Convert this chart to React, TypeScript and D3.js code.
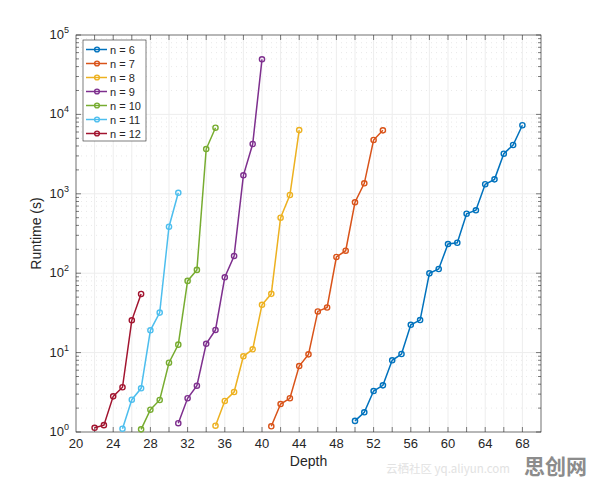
import React, { useEffect, useRef } from 'react';
import * as d3 from 'd3';

// runtime measurements, one array per problem size n
const depth6 = [50, 51, 52, 53, 54, 55, 56, 57, 58, 59, 60, 61, 62, 63, 64, 65, 66, 67, 68];
const runtime6 = [1.38, 1.77, 3.28, 3.87, 8.0, 9.6, 22.4, 25.7, 99.6, 113, 233, 242, 561, 620, 1320, 1520, 3200, 4120, 7300];

const depth7 = [41, 42, 43, 44, 45, 46, 47, 48, 49, 50, 51, 52, 53];
const runtime7 = [1.18, 2.25, 2.66, 6.77, 9.5, 33, 37, 160, 192, 782, 1356, 4760, 6300];

const depth8 = [35, 36, 37, 38, 39, 40, 41, 42, 43, 44];
const runtime8 = [1.2, 2.46, 3.19, 8.98, 11, 40, 55, 500, 966, 6340];

const depth9 = [31, 32, 33, 34, 35, 36, 37, 38, 39, 40];
const runtime9 = [1.29, 2.66, 3.83, 12.9, 19.3, 88.8, 165, 1710, 4240, 49400];

const depth10 = [27, 28, 29, 30, 31, 32, 33, 34, 35];
const runtime10 = [1.08, 1.91, 2.53, 7.46, 12.6, 80, 110, 3660, 6800];

const depth11 = [25, 26, 27, 28, 29, 30, 31];
const runtime11 = [1.1, 2.55, 3.55, 19.1, 31.9, 385, 1030];

const depth12 = [22, 23, 24, 25, 26, 27];
const runtime12 = [1.13, 1.22, 2.81, 3.66, 25.5, 54.7];

const seriesNames = ['n = 6', 'n = 7', 'n = 8', 'n = 9', 'n = 10', 'n = 11', 'n = 12'];
const colors = ['#0072BD', '#D95319', '#EDB120', '#7E2F8E', '#77AC30', '#4DBEEE', '#A2142F'];

const xTicks = [20, 24, 28, 32, 36, 40, 44, 48, 52, 56, 60, 64, 68];
const yDecades = [0, 1, 2, 3, 4, 5];

const App = () => {
  const ref = useRef<SVGSVGElement>(null);

  useEffect(() => {
    const width = 596;
    const height = 483;
    const margin = { top: 35, left: 76, right: 55, bottom: 51 };
    const gw = width - margin.left - margin.right;
    const gh = height - margin.top - margin.bottom;
    const font = 'Helvetica, Arial, "Liberation Sans", sans-serif';
    const ink = '#262626';

    const svg = d3.select(ref.current).attr('width', width).attr('height', height);
    svg.selectAll('*').remove();
    svg.append('rect').attr('width', width).attr('height', height).attr('fill', '#fff');

    const g = svg.append('g').attr('transform', `translate(${margin.left},${margin.top})`);

    const x = d3.scaleLinear().domain([20, 70]).range([0, gw]);
    const y = d3.scaleLog().domain([1, 1e5]).range([gh, 0]);

    // minor grid (log) dotted, major grid solid
    const minorY: number[] = [];
    for (let e = 0; e < 5; e++) for (let k = 2; k <= 9; k++) minorY.push(k * Math.pow(10, e));
    g.selectAll('.ygridminor').data(minorY).join('line')
      .attr('x1', 0).attr('x2', gw)
      .attr('y1', d => y(d)).attr('y2', d => y(d))
      .attr('stroke', '#e0e0e0').attr('stroke-width', 0.7).attr('stroke-dasharray', '1,4');

    const xGrid = d3.range(20, 71, 2);
    g.selectAll('.xgrid').data(xGrid).join('line')
      .attr('x1', d => x(d)).attr('x2', d => x(d))
      .attr('y1', 0).attr('y2', gh)
      .attr('stroke', '#ededed').attr('stroke-width', 1);
    g.selectAll('.ygrid').data(yDecades).join('line')
      .attr('x1', 0).attr('x2', gw)
      .attr('y1', d => y(Math.pow(10, d))).attr('y2', d => y(Math.pow(10, d)))
      .attr('stroke', '#ededed').attr('stroke-width', 1);

    // box
    g.append('rect').attr('width', gw).attr('height', gh)
      .attr('fill', 'none').attr('stroke', ink).attr('stroke-width', 0.6);

    // x ticks (inside, both top and bottom)
    g.selectAll('.xtick').data(xGrid.filter(d => d > 20 && d < 70)).join('g')
      .each(function (d) {
        const s = d3.select(this);
        s.append('line').attr('x1', x(d)).attr('x2', x(d)).attr('y1', gh).attr('y2', gh - 5).attr('stroke', ink).attr('stroke-width', 0.6);
        s.append('line').attr('x1', x(d)).attr('x2', x(d)).attr('y1', 0).attr('y2', 5).attr('stroke', ink).attr('stroke-width', 0.6);
      });
    g.selectAll('.xlabel').data(xTicks).join('text')
      .attr('x', d => x(d)).attr('y', gh + 16)
      .attr('text-anchor', 'middle').attr('font-family', font).attr('font-size', 13).attr('fill', ink)
      .text(d => d);

    // y ticks
    g.selectAll('.ytick').data([...yDecades.map(d => Math.pow(10, d)), ...minorY]).join('g')
      .each(function (d) {
        const len = Number.isInteger(Math.log10(d)) ? 5 : 3;
        const s = d3.select(this);
        s.append('line').attr('x1', 0).attr('x2', len).attr('y1', y(d)).attr('y2', y(d)).attr('stroke', ink).attr('stroke-width', 0.6);
        s.append('line').attr('x1', gw).attr('x2', gw - len).attr('y1', y(d)).attr('y2', y(d)).attr('stroke', ink).attr('stroke-width', 0.6);
      });
    const ylab = g.selectAll('.ylabel').data(yDecades).join('text')
      .attr('x', -7).attr('y', d => y(Math.pow(10, d)) + 4)
      .attr('text-anchor', 'end').attr('font-family', font).attr('font-size', 13).attr('fill', ink);
    ylab.append('tspan').text('10');
    ylab.append('tspan').attr('dy', -6).attr('font-size', 9).text(d => d);

    // axis titles
    svg.append('text').attr('x', margin.left + gw / 2).attr('y', height - 17)
      .attr('text-anchor', 'middle').attr('font-family', font).attr('font-size', 14).attr('fill', ink)
      .text('Depth');
    svg.append('text').attr('transform', `translate(41,${margin.top + gh / 2}) rotate(-90)`)
      .attr('text-anchor', 'middle').attr('font-family', font).attr('font-size', 14).attr('fill', ink)
      .text('Runtime (s)');

    // series
    const series = [
      [depth6, runtime6], [depth7, runtime7], [depth8, runtime8], [depth9, runtime9],
      [depth10, runtime10], [depth11, runtime11], [depth12, runtime12],
    ].map(([ds, rs], i) => ({ name: seriesNames[i], color: colors[i], pts: ds.map((d, j) => ({ d, r: rs[j] })) }));

    const line = d3.line<{ d: number; r: number }>().x(p => x(p.d)).y(p => y(p.r));

    series.forEach(s => {
      g.append('path').datum(s.pts).attr('d', line)
        .attr('fill', 'none').attr('stroke', s.color).attr('stroke-width', 1.5);
      g.selectAll(null).data(s.pts).join('circle')
        .attr('cx', p => x(p.d)).attr('cy', p => y(p.r)).attr('r', 2.6)
        .attr('fill', 'none').attr('stroke', s.color).attr('stroke-width', 1.4);
    });

    // legend
    const lg = svg.append('g').attr('transform', 'translate(83,40)');
    lg.append('rect').attr('width', 63).attr('height', 101)
      .attr('fill', '#fff').attr('stroke', ink).attr('stroke-width', 0.6);
    series.forEach((s, i) => {
      const cy = 9.5 + i * 14;
      lg.append('line').attr('x1', 3).attr('x2', 24).attr('y1', cy).attr('y2', cy)
        .attr('stroke', s.color).attr('stroke-width', 1.5);
      lg.append('circle').attr('cx', 14).attr('cy', cy).attr('r', 2.4)
        .attr('fill', 'none').attr('stroke', s.color).attr('stroke-width', 1.4);
      lg.append('text').attr('x', 27).attr('y', cy + 4)
        .attr('font-family', font).attr('font-size', 11).attr('fill', ink).text(s.name);
    });

    // site watermark
    svg.append('text').attr('x', 386).attr('y', 473)
      .attr('font-family', '"Noto Sans CJK SC", sans-serif').attr('font-size', 11.5).attr('fill', '#e2e2e2')
      .text('云栖社区 yq.aliyun.com');
    svg.append('text').attr('x', 524).attr('y', 474)
      .attr('font-family', '"Noto Sans CJK SC", sans-serif').attr('font-weight', 'bold').attr('font-size', 21).attr('fill', '#8c8c8c')
      .text('思创网');
  }, []);

  return <svg ref={ref} style={{ position: 'absolute', left: 0, top: 0, display: 'block' }} />;
};

export default App;
